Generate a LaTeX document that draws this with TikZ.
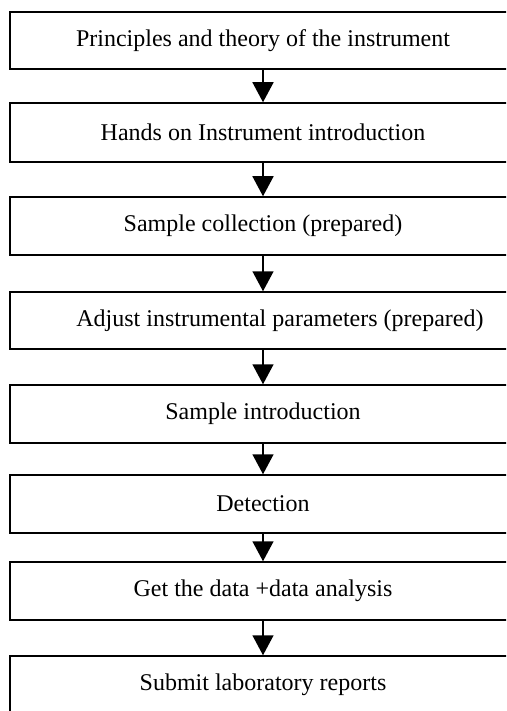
\documentclass[tikz,border=0pt]{standalone}
\usepackage{fontspec}
\setmainfont{Liberation Serif}
\usetikzlibrary{arrows.meta}
\begin{document}
\begin{tikzpicture}[x=1pt,y=-1pt,
  stepbox/.style={draw=black,line width=1.5pt,rectangle,inner sep=0pt,
    minimum width=506pt,font=\fontsize{24}{28}\selectfont,anchor=center},
  arr/.style={line width=1.5pt,-{Triangle[length=20pt,width=21pt]}}]
\useasboundingbox (0,0) rectangle (506,711);
\clip (0,0) rectangle (506,711);
\node[stepbox,minimum height=57pt] (b1) at (263,40.5) {Principles and theory of the instrument};
\node[stepbox,minimum height=59pt] (b2) at (263,132.5) {Hands on Instrument introduction};
\node[stepbox,minimum height=58pt] (b3) at (263,226) {Sample collection (prepared)};
\node[stepbox,minimum height=57pt] (b4) at (263,320.5) {\hspace*{34pt}Adjust instrumental parameters (prepared)};
\node[stepbox,minimum height=58pt] (b5) at (263,414) {Sample introduction};
\node[stepbox,minimum height=58pt] (b6) at (263,504) {Detection};
\node[stepbox,minimum height=58pt] (b7) at (263,591) {Get the data +data analysis};
\node[stepbox,minimum height=58pt] (b8) at (263,685) {Submit laboratory reports};
\draw[arr] (b1.south) -- (b2.north);
\draw[arr] (b2.south) -- (b3.north);
\draw[arr] (b3.south) -- (b4.north);
\draw[arr] (b4.south) -- (b5.north);
\draw[arr] (b5.south) -- (b6.north);
\draw[arr] (b6.south) -- (b7.north);
\draw[arr] (b7.south) -- (b8.north);
\end{tikzpicture}
\end{document}
